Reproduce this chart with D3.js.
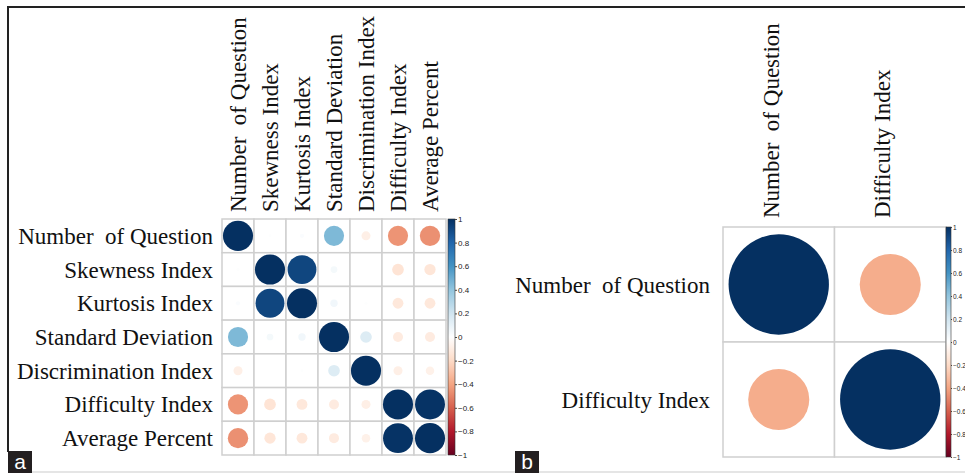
<!DOCTYPE html>
<html>
<head>
<meta charset="utf-8">
<script src="https://cdn.jsdelivr.net/npm/d3@7"></script>
<style>
  body { margin: 0; background: #fff; }
  svg { display: block; }
  .lab { font-family: "Liberation Serif", "Times New Roman", serif; font-size: 23px; fill: #111; white-space: pre; }
  .tick-lab { font-family: "Liberation Sans", Arial, sans-serif; font-size: 8px; fill: #222; }
</style>
</head>
<body>
<div id="chart-container"></div>
<script>
// panel a: correlation matrix of all item indices
var varsA = ["Number  of Question", "Skewness Index", "Kurtosis Index", "Standard Deviation",
             "Discrimination Index", "Difficulty Index", "Average Percent"];
var corrA = [
  [ 1.00,  0.01,  0.02,  0.45, -0.09, -0.45, -0.46],
  [ 0.01,  1.00,  0.92,  0.05,  0.00, -0.15, -0.14],
  [ 0.02,  0.92,  1.00,  0.06,  0.01, -0.13, -0.13],
  [ 0.45,  0.05,  0.06,  1.00,  0.15, -0.11, -0.11],
  [-0.09,  0.00,  0.01,  0.15,  1.00, -0.09, -0.08],
  [-0.45, -0.15, -0.13, -0.11, -0.09,  1.00,  0.99],
  [-0.46, -0.14, -0.13, -0.11, -0.08,  0.99,  1.00]
];
// panel b: the two retained indices
var varsB = ["Number  of Question", "Difficulty Index"];
var corrB = [
  [ 1.00, -0.37],
  [-0.37,  1.00]
];
var legendTicks = [1, 0.8, 0.6, 0.4, 0.2, 0, -0.2, -0.4, -0.6, -0.8, -1];

var width = 965, height = 473;

var color = d3.scaleLinear()
  .domain([-1, -0.8, -0.6, -0.4, -0.2, 0, 0.2, 0.4, 0.6, 0.8, 1])
  .range(["#67001F", "#B2182B", "#D6604D", "#F4A582", "#FDDBC7", "#FFFFFF",
          "#D1E5F0", "#92C5DE", "#4393C3", "#2166AC", "#053061"]);

var svg = d3.select("#chart-container")
  .append("svg")
  .attr("width", width)
  .attr("height", height);

// frame
svg.append("line").attr("x1", 8).attr("x2", width).attr("y1", 7).attr("y2", 7)
  .attr("stroke", "#222").attr("stroke-width", 2);
svg.append("line").attr("x1", 8).attr("x2", 8).attr("y1", 6).attr("y2", 452)
  .attr("stroke", "#222").attr("stroke-width", 2);
svg.append("line").attr("x1", 31).attr("x2", width).attr("y1", 472).attr("y2", 472)
  .attr("stroke", "#ddd").attr("stroke-width", 1.5);

function panelTag(x, txt) {
  svg.append("rect").attr("x", x).attr("y", 451).attr("width", 24).attr("height", 22)
    .attr("fill", "#231f20");
  svg.append("text").attr("x", x + 12).attr("y", 469)
    .attr("text-anchor", "middle")
    .style("font-family", "Liberation Sans, Arial, sans-serif")
    .style("font-size", "21px").attr("fill", "#fff").text(txt);
}
panelTag(8, "a");
panelTag(515, "b");

function corrPlot(opt) {
  var g = svg.append("g");
  var n = opt.vars.length;
  var x = d3.scaleBand().domain(d3.range(n)).range([opt.left, opt.right]);
  var y = d3.scaleBand().domain(d3.range(n)).range([opt.top, opt.bottom]);
  var rMax = Math.min(x.bandwidth(), y.bandwidth()) / 2 * opt.fill;
  var size = d3.scaleSqrt().domain([0, 1]).range([0, rMax]);

  var cells = [];
  opt.data.forEach(function(row, i) {
    row.forEach(function(v, j) { cells.push({ i: i, j: j, v: v }); });
  });

  // grid
  g.selectAll("rect.cell").data(cells).enter().append("rect")
    .attr("class", "cell")
    .attr("x", function(d) { return x(d.j); })
    .attr("y", function(d) { return y(d.i); })
    .attr("width", x.bandwidth())
    .attr("height", y.bandwidth())
    .attr("fill", "#fff")
    .attr("stroke", "#cfcfcf")
    .attr("stroke-width", 1.5);

  g.selectAll("circle.c").data(cells).enter().append("circle")
    .attr("class", "c")
    .attr("cx", function(d) { return x(d.j) + x.bandwidth() / 2; })
    .attr("cy", function(d) { return y(d.i) + y.bandwidth() / 2; })
    .attr("r", function(d) { return size(Math.abs(d.v)); })
    .attr("fill", function(d) { return color(d.v); });

  // row labels
  g.selectAll("text.row").data(opt.vars).enter().append("text")
    .attr("class", "lab row")
    .attr("x", opt.left - opt.rowGap)
    .attr("y", function(d, i) { return y(i) + y.bandwidth() / 2; })
    .attr("dy", "0.35em")
    .attr("text-anchor", "end")
    .text(function(d) { return d; });

  // column labels
  g.selectAll("text.col").data(opt.vars).enter().append("text")
    .attr("class", "lab col")
    .attr("transform", function(d, i) {
      return "translate(" + (x(i) + x.bandwidth() / 2 + opt.colShift) + "," + (opt.top - opt.colGap) + ") rotate(-90)";
    })
    .attr("dy", "0.35em")
    .attr("text-anchor", "start")
    .text(function(d) { return d; });

  // colour legend
  var lx = opt.right + opt.legGap;
  var ly = d3.scaleLinear().domain([1, -1]).range([opt.top, opt.bottom]);
  var gradId = "grad" + opt.id;
  var grad = svg.append("defs").append("linearGradient")
    .attr("id", gradId).attr("x1", 0).attr("x2", 0).attr("y1", 0).attr("y2", 1);
  d3.range(1, -1.001, -0.1).forEach(function(v) {
    grad.append("stop")
      .attr("offset", ((1 - v) / 2 * 100) + "%")
      .attr("stop-color", color(v));
  });
  g.append("rect")
    .attr("x", lx).attr("y", opt.top)
    .attr("width", opt.legW).attr("height", opt.bottom - opt.top)
    .attr("fill", "url(#" + gradId + ")")
    .attr("stroke", "#333").attr("stroke-width", 0.6);

  var axis = d3.axisRight(ly)
    .tickValues(legendTicks)
    .tickSize(opt.tickLen)
    .tickFormat(d3.format("~g"));
  var ag = g.append("g")
    .attr("transform", "translate(" + (lx + opt.legW) + ",0)")
    .call(axis);
  ag.select(".domain").remove();
  ag.selectAll(".tick line").attr("stroke", "#444");
  ag.selectAll(".tick text")
    .attr("class", "tick-lab")
    .attr("x", opt.tickLen + 1)
    .style("font-size", opt.tickFont + "px")
    .attr("fill", "#222");
}

corrPlot({
  id: "a", vars: varsA, data: corrA,
  left: 222, right: 446, top: 219, bottom: 455,
  fill: 0.94, rowGap: 9, colGap: 7, colShift: 0,
  legGap: 2, legW: 7, tickFont: 8, tickLen: 2
});

corrPlot({
  id: "b", vars: varsB, data: corrB,
  left: 723, right: 946, top: 227, bottom: 457,
  fill: 0.9, rowGap: 13, colGap: 9, colShift: -8,
  legGap: 0, legW: 5, tickFont: 6.5, tickLen: 1
});
</script>
</body>
</html>
